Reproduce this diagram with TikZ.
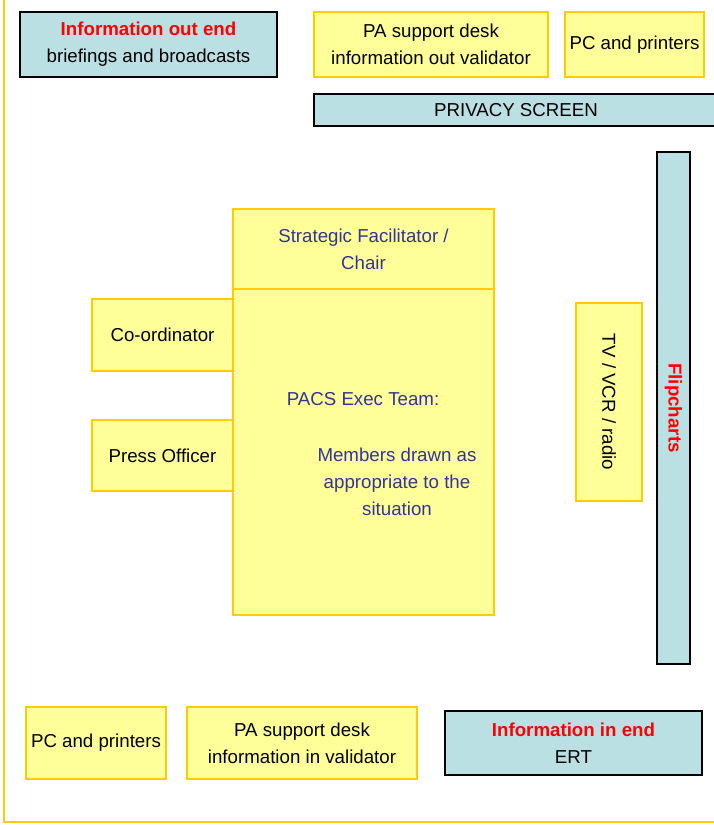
\documentclass[tikz,border=0pt]{standalone}
\usepackage{fontspec}
\setmainfont{Liberation Sans}
\usepackage{tikz}
\usetikzlibrary{positioning}
\definecolor{paper}{RGB}{255,255,153}
\definecolor{gold}{RGB}{255,204,0}
\definecolor{screen}{RGB}{187,224,227}
\definecolor{ink}{RGB}{51,51,153}
\newcommand{\roomfont}{\fontsize{18.7}{27}\selectfont}

\begin{document}
\begin{tikzpicture}[x=1pt,y=-1pt,
  desk/.style={draw=gold,fill=paper,line width=2pt,align=center,inner sep=0pt,outer sep=0pt,font=\roomfont},
  wall/.style={draw=black,fill=screen,line width=2pt,align=center,inner sep=0pt,outer sep=0pt,font=\roomfont},
  teamtext/.style={align=center,inner sep=0pt,text=ink,font=\roomfont},
  hot/.style={text=red,font=\bfseries}]

  \useasboundingbox (0,0) rectangle (714,825);
  \draw[gold,line width=2.5pt] (4,-10) -- (4,822) -- (724,822);

  \node[wall,minimum width=257,minimum height=65] (outend) at (148.5,44.5)
    {{\color{red}\bfseries Information out end}\\briefings and broadcasts};
  \node[desk,minimum width=234,minimum height=65] (outdesk) at (431,44.5)
    {PA support desk\\information out validator};
  \node[desk,minimum width=139,minimum height=65] (pctop) at (634.5,44.5) {PC and printers};
  \node[wall,minimum width=404,minimum height=32] (privacy) at (516,110) {PRIVACY SCREEN};

  \node[wall,rotate=-90,minimum width=512,minimum height=33] (flip) at (673.5,408)
    {\color{red}\bfseries Flipcharts};
  \node[desk,rotate=-90,minimum width=198,minimum height=66] (tv) at (609,402) {TV / VCR / radio};

  \node[desk,minimum width=261,minimum height=326] (team) at (363.5,452) { };
  \node[desk,minimum width=261,minimum height=80,text=ink] (chair) [above=0pt of team]
    {Strategic Facilitator /\\Chair};
  \node[teamtext] (teamhead) at (363,399) {PACS Exec Team:};
  \node[teamtext] (members) at (397,482) {Members drawn as\\appropriate to the\\situation};

  \node[desk,minimum width=141,minimum height=72] (coord) at (162.5,335) {Co-ordinator};
  \node[desk,minimum width=141,minimum height=71] (press) at (162.5,455.5) {Press Officer};

  \node[desk,minimum width=140,minimum height=72] (pcbot) at (96,743) {PC and printers};
  \node[desk,minimum width=230,minimum height=72] (indesk) at (302,743)
    {PA support desk\\information in validator};
  \node[wall,minimum width=257,minimum height=64] (inend) at (573.5,743)
    {{\color{red}\bfseries Information in end}\\ERT};

\end{tikzpicture}
\end{document}
